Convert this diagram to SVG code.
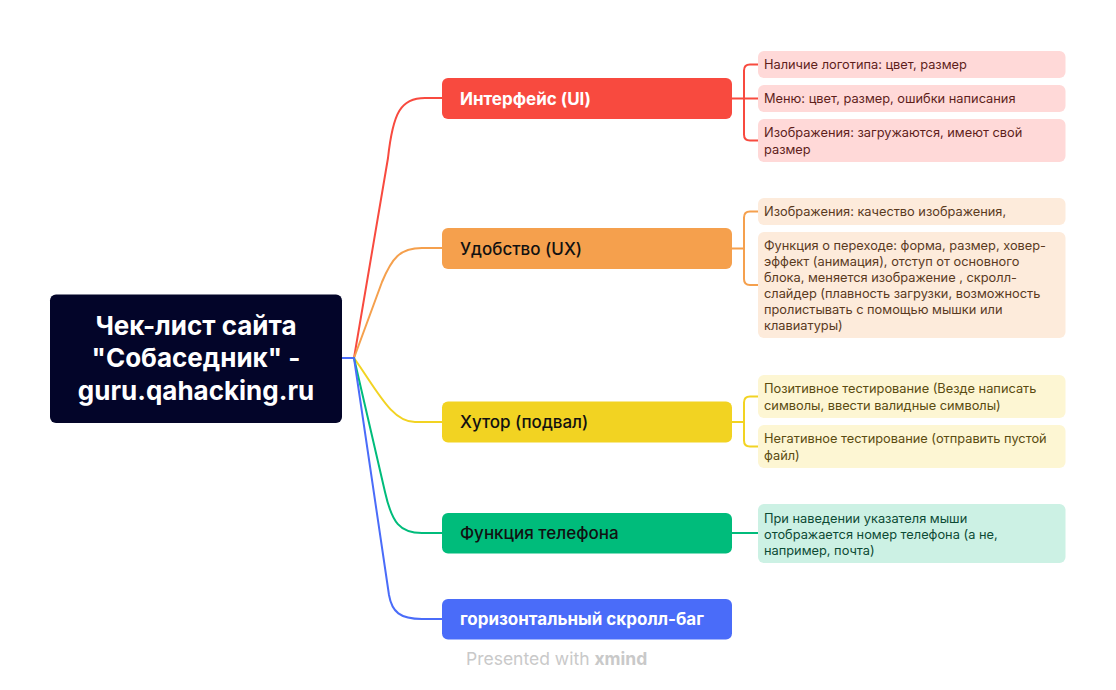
<svg xmlns="http://www.w3.org/2000/svg" width="1116" height="690" viewBox="0 0 1116 690">
<style>
.root-t{font-family:Inter,"Noto Sans",sans-serif;font-size:26px;font-weight:700;fill:#ffffff}
.br-t{font-family:Inter,"Noto Sans",sans-serif;font-size:17px;font-weight:500}
.br-w{fill:#ffffff;font-weight:700}
.br-d{fill:#111111}
.lf-t{font-family:Inter,"Noto Sans",sans-serif;font-size:12.8px;font-weight:400}
.con{fill:none;stroke-width:2;stroke-linecap:round;stroke-linejoin:round}
.foot{font-family:Inter,"Noto Sans",sans-serif;font-size:17.5px;fill:#c9c9c9}
</style>
<rect width="1116" height="690" fill="#ffffff"/>
<g id="connectors">
  <path class="con" stroke="#4A6CF9" d="M342,358 L354,358"/>
  <path class="con" stroke="#F84A3F" d="M354,358 L388,158 C393,112 401,98 425,98 L442,98"/>
  <path class="con" stroke="#F5A04D" d="M354,358 L382,282 C392,258 400,248 422,248 L442,248"/>
  <path class="con" stroke="#F2D322" d="M354,358 C378,392 392,422 415,422 L442,422"/>
  <path class="con" stroke="#00BC7B" d="M354,358 L385,492 C392,523 400,533 422,533 L442,533"/>
  <path class="con" stroke="#4A6CF9" d="M354,358 L389,595 C392,612 400,619 422,619 L442,619"/>
  <path class="con" stroke="#F84A3F" d="M732,98.5 L758,98.5 M758,64.5 L750,64.5 Q744,64.5 744,70.5 L744,134.5 Q744,140.5 750,140.5 L758,140.5"/>
  <path class="con" stroke="#F5A04D" d="M732,248.5 L744,248.5 M758,211.5 L750,211.5 Q744,211.5 744,217.5 L744,279 Q744,285 750,285 L758,285"/>
  <path class="con" stroke="#F2D322" d="M732,422 L744,422 M758,396.5 L750,396.5 Q744,396.5 744,402.5 L744,440.5 Q744,446.5 750,446.5 L758,446.5"/>
  <path class="con" stroke="#00BC7B" d="M732,533 L758,533"/>
</g>
<g id="root">
  <rect x="50" y="294.5" width="292" height="128.5" rx="6" fill="#030529"/>
  <text class="root-t" text-anchor="middle"><tspan x="196" y="335">Чек-лист сайта</tspan><tspan x="196" y="367">"Собаседник" -</tspan><tspan x="196" y="400">guru.qahacking.ru</tspan></text>
</g>
<g id="b-ui">
  <rect x="442" y="78" width="290" height="41" rx="6" fill="#F84A3F"/>
  <text class="br-t br-w" x="460" y="104.5">Интерфейс (UI)</text>
</g>
<g id="b-ux">
  <rect x="442" y="228" width="290" height="41" rx="6" fill="#F5A04D"/>
  <text class="br-t br-d" x="460" y="254.5">Удобство (UX)</text>
</g>
<g id="b-footer">
  <rect x="442" y="401.5" width="290" height="41" rx="6" fill="#F2D322"/>
  <text class="br-t br-d" x="460" y="428">Хутор (подвал)</text>
</g>
<g id="b-phone">
  <rect x="442" y="513" width="290" height="40.5" rx="6" fill="#00BC7B"/>
  <text class="br-t br-d" x="460" y="539">Функция телефона</text>
</g>
<g id="b-scroll">
  <rect x="442" y="599" width="290" height="40.5" rx="6" fill="#4A6CF9"/>
  <text class="br-t br-w" x="460" y="625">горизонтальный скролл-баг</text>
</g>
<g id="l-ui-1">
  <rect x="758" y="51" width="307.5" height="27" rx="6" fill="#FFD9D8"/>
  <text class="lf-t" fill="#5E1E1B" x="764" y="69">Наличие логотипа: цвет, размер</text>
</g>
<g id="l-ui-2">
  <rect x="758" y="85" width="307.5" height="27" rx="6" fill="#FFD9D8"/>
  <text class="lf-t" fill="#5E1E1B" x="764" y="103">Меню: цвет, размер, ошибки написания</text>
</g>
<g id="l-ui-3">
  <rect x="758" y="119" width="307.5" height="43" rx="6" fill="#FFD9D8"/>
  <text class="lf-t" fill="#5E1E1B"><tspan x="764" y="137">Изображения: загружаются, имеют свой</tspan><tspan x="764" y="154">размер</tspan></text>
</g>
<g id="l-ux-1">
  <rect x="758" y="198" width="307.5" height="27" rx="6" fill="#FDEBDB"/>
  <text class="lf-t" fill="#5A3A1E" x="764" y="216">Изображения: качество изображения,</text>
</g>
<g id="l-ux-2">
  <rect x="758" y="232" width="307.5" height="106" rx="6" fill="#FDEBDB"/>
  <text class="lf-t" fill="#5A3A1E"><tspan x="764" y="250">Функция о переходе: форма, размер, ховер-</tspan><tspan x="764" y="266">эффект (анимация), отступ от основного</tspan><tspan x="764" y="282">блока, меняется изображение , скролл-</tspan><tspan x="764" y="298">слайдер (плавность загрузки, возможность</tspan><tspan x="764" y="314">пролистывать с помощью мышки или</tspan><tspan x="764" y="330">клавиатуры)</tspan></text>
</g>
<g id="l-f-1">
  <rect x="758" y="375" width="307.5" height="43" rx="6" fill="#FDF6D3"/>
  <text class="lf-t" fill="#5A4B10"><tspan x="764" y="393">Позитивное тестирование (Везде написать</tspan><tspan x="764" y="410">символы, ввести валидные символы)</tspan></text>
</g>
<g id="l-f-2">
  <rect x="758" y="425" width="307.5" height="43" rx="6" fill="#FDF6D3"/>
  <text class="lf-t" fill="#5A4B10"><tspan x="764" y="443">Негативное тестирование (отправить пустой</tspan><tspan x="764" y="460">файл)</tspan></text>
</g>
<g id="l-ph-1">
  <rect x="758" y="504" width="307.5" height="59" rx="6" fill="#CCF1E4"/>
  <text class="lf-t" fill="#0C4A34"><tspan x="764" y="523">При наведении указателя мыши</tspan><tspan x="764" y="539">отображается номер телефона (а не,</tspan><tspan x="764" y="555">например, почта)</tspan></text>
</g>
<text class="foot" x="466" y="665">Presented with <tspan font-weight="700">xmind</tspan></text>
</svg>
